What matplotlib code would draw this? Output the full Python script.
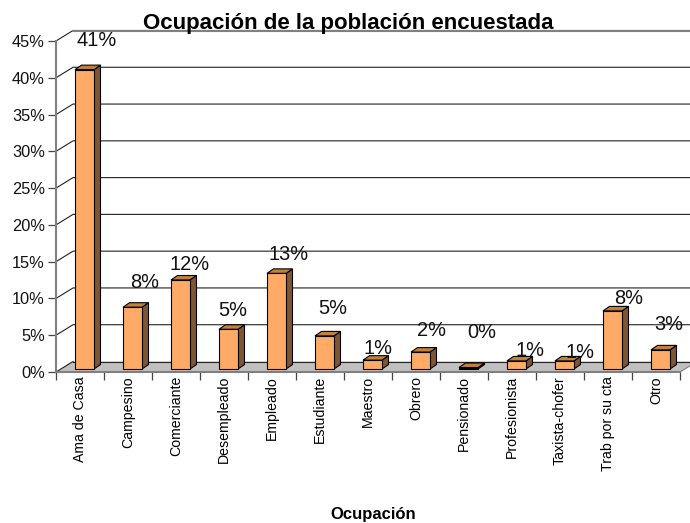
import matplotlib
matplotlib.use("Agg")
import matplotlib.pyplot as plt
from matplotlib.patches import Polygon

categories = ["Ama de Casa", "Campesino", "Comerciante", "Desempleado", "Empleado", "Estudiante",
              "Maestro", "Obrero", "Pensionado", "Profesionista", "Taxista-chofer", "Trab por su cta", "Otro"]
values = [40.7, 8.4, 12.1, 5.4, 13.0, 4.5, 1.2, 2.3, 0.2, 1.1, 1.1, 7.9, 2.6]
labels = ["41%", "8%", "12%", "5%", "13%", "5%", "1%", "2%", "0%", "1%", "1%", "8%", "3%"]
yticks = list(range(0, 50, 5))

# pixel positions of the free-floating value labels, as placed in the reference
label_px = [(97, 41), (145, 283), (190, 265), (233, 311), (289, 254), (333, 309), (378, 349),
            (431, 330), (482, 333), (530, 351), (580, 353), (629, 299), (669, 325)]

plt.rcParams["font.family"] = ["Liberation Sans", "DejaVu Sans"]
W, H = 690, 523
fig = plt.figure(figsize=(W / 100, H / 100), dpi=100)
L, R, B, T = 56, 680, 372, 41
ax = fig.add_axes([L / W, 1 - B / H, (R - L) / W, (B - T) / H])
ax.set_xlim(0, len(categories))
ax.set_ylim(0, 45)
ax.patch.set_visible(False)
for s in ax.spines.values():
    s.set_visible(False)

px_x = len(categories) / (R - L)
px_y = 45 / (B - T)
wall_dx, wall_dy = 17 * px_x, 10.5 * px_y
n = len(categories)
kw = dict(clip_on=False)

# floor
ax.add_patch(Polygon([(0, 0), (n, 0), (n + wall_dx, wall_dy), (wall_dx, wall_dy)],
                     fc="#c0c0c0", ec="none", zorder=1, **kw))
# walls / gridlines
for v in yticks[1:]:
    ax.plot([0, wall_dx, n + wall_dx], [v, v + wall_dy, v + wall_dy],
            color="#222222", lw=0.8, zorder=2, **kw)
ax.plot([wall_dx, n + wall_dx], [45 + wall_dy, 45 + wall_dy], color="#808080", lw=1.5, zorder=2, **kw)
ax.plot([0, wall_dx], [0, wall_dy], color="#222222", lw=0.8, zorder=2, **kw)
ax.plot([wall_dx, n + wall_dx], [wall_dy, wall_dy], color="#222222", lw=0.8, zorder=2, **kw)
ax.plot([n, n + wall_dx], [0, wall_dy], color="#808080", lw=0.8, zorder=2, **kw)
ax.plot([0, 0], [0, 45], color="#808080", lw=1.5, zorder=2, **kw)
ax.plot([0, n], [0, 0], color="#808080", lw=1.5, zorder=2, **kw)

# bars
bw = 19 * px_x
base = 3 * px_y
shift = 4.5 * px_x
dx, dy = 6.5 * px_x, 4.5 * px_y
xs = [i + 0.5 + shift for i in range(n)]
ax.bar(xs, values, width=bw, bottom=base, color="#ffaa66", edgecolor="black", lw=0.8, zorder=4, **kw)
for x, v in zip(xs, values):
    x0, x1, y1 = x - bw / 2, x + bw / 2, v + base
    ax.add_patch(Polygon([(x1, base), (x1 + dx, base + dy), (x1 + dx, y1 + dy), (x1, y1)],
                         fc="#7f5533", ec="black", lw=0.8, zorder=3, **kw))
    ax.add_patch(Polygon([(x0, y1), (x1, y1), (x1 + dx, y1 + dy), (x0 + dx, y1 + dy)],
                         fc="#bf8040", ec="black", lw=0.8, zorder=3, **kw))

ax.set_yticks(yticks)
ax.set_yticklabels([f"{v}%" for v in yticks], fontsize=11.8, color="#111111")
ax.set_xticks(range(n + 1))
ax.set_xticklabels([""] * (n + 1))
ax.tick_params(axis="both", length=6, width=0.9, color="#444444", pad=2)
for i, c in enumerate(categories):
    fig.text((L + (i + 0.5) * (R - L) / n) / W, 1 - 376 / H, c, rotation=90, ha="center", va="top",
             fontsize=10.2, color="black")

for t, (x, y) in zip(labels, label_px):
    fig.text(x / W, 1 - y / H, t, ha="center", va="center", fontsize=14.4, color="#111111", zorder=6)

fig.text(348 / W, 1 - 23.5 / H, "Ocupación de la población encuestada", ha="center", va="center",
         fontsize=16, fontweight="bold")
fig.text(373 / W, 1 - 515 / H, "Ocupación", ha="center", va="center", fontsize=12, fontweight="bold")

fig.savefig("out.png", dpi=100)
